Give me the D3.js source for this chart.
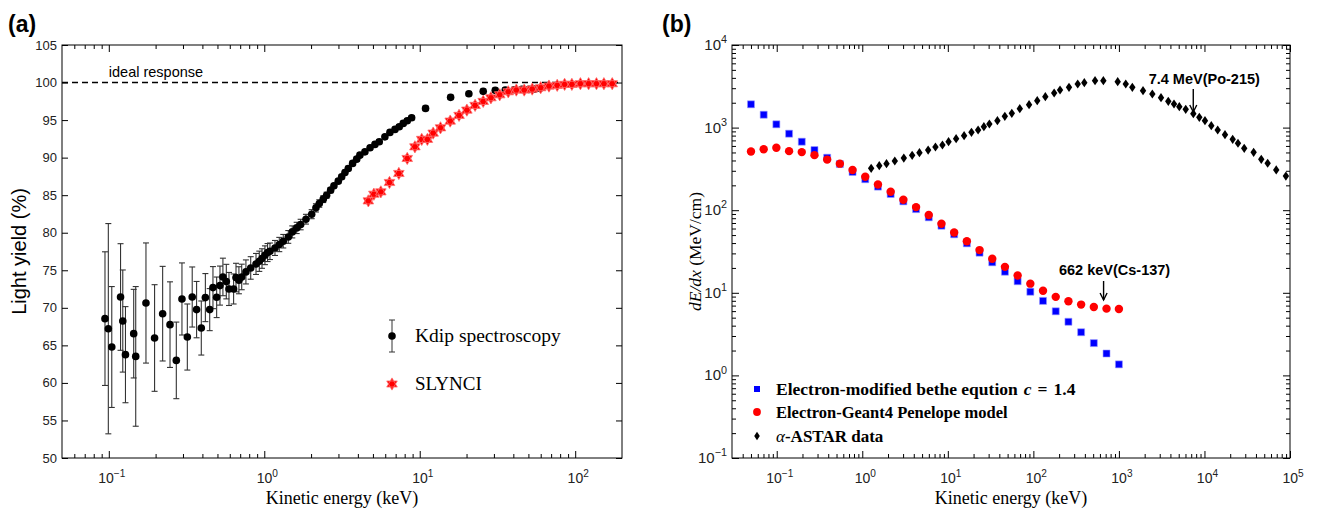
<!DOCTYPE html>
<html><head><meta charset="utf-8">
<script src="https://cdn.jsdelivr.net/npm/d3@7"></script>
<style>body{margin:0;background:#fff;} svg{display:block;}</style>
</head><body>
<svg id="chart" width="1322" height="510"></svg>
<script>
// ---------------- DATA ----------------
// Panel (a): Kdip spectroscopy (energy keV, light yield %, error %)
const kdipEnergy = [0.0945,0.0993,0.1045,0.119,0.123,0.128,0.1446,0.149,0.1734,0.197,0.222,0.2476,0.2718,0.2955,0.320,0.344,0.367,0.3935,0.418,0.4457,
  0.4677,0.494,0.519,0.542,0.570,0.593,0.635,0.658,0.687,0.716,0.762,0.818,0.885,0.929,0.967,1.01,1.05,1.088,1.172,1.249,1.325,1.427,1.514,1.616,1.714,1.854,2.018,2.149,2.259,2.395,2.518,
  2.672,2.806,2.992,3.147,3.304,3.47,3.70,3.93,4.12,4.44,4.79,5.15,5.49,5.97,6.43,6.93,7.38,7.83,8.31,8.87,10.9,15.8,20.7,25.6,30.6,35.5,40.5,45.4,50.4,54.8,59.3];
const kdipYield = [68.56,67.22,64.78,71.44,68.24,63.76,66.56,63.53,70.64,65.98,69.22,67.76,63.0,71.18,66.11,71.44,69.76,67.31,71.36,69.76,
  72.69,71.4,72.96,74.11,73.49,72.51,72.51,74.03,73.67,74.11,74.78,75.31,75.84,76.2,76.56,77.0,77.36,77.53,77.97,78.43,78.87,79.44,80.11,80.64,81.09,81.8,82.47,83.31,83.89,84.47,85.0,
  85.67,86.24,86.87,87.44,88.03,88.56,89.23,89.8,90.33,90.77,91.31,91.76,92.11,92.77,93.36,93.76,94.11,94.56,94.91,95.31,96.56,98.03,98.51,98.83,98.96,99.0,99.04,99.09,99.09,99.13,99.23];
const kdipError = [8.9,14.0,8.05,7.1,6.8,6.4,5.9,9.3,8.0,7.1,6.3,5.7,5.1,4.8,4.4,4.0,3.75,3.6,3.2,2.8,
  2.8,2.7,2.6,2.5,2.3,2.2,2.0,1.9,1.8,1.7,1.6,1.5,1.4,1.35,1.3,1.25,1.2,1.1,1.0,0.95,0.9,0.85,0.8,0.75,0.7,0.65,0.6,0.55,0.5,0.45,0.4,
  0.35,0.3,0.3,0.3,0.3,0.3,0.3,0.3,0.3,0.3,0.3,0.3,0.3,0.3,0.3,0.3,0.3,0.3,0.3,0.3,0.3,0.3,0.3,0.3,0.3,0.3,0.3,0.3,0.3,0.3,0.3];
// Panel (a): SLYNCI
const slynciEnergy = [4.67,5.07,5.62,6.39,7.34,8.31,9.31,10.3,11.2,12.2,13.6,15.7,17.9,20.1,22.7,25.6,28.7,32.7,37.1,41.8,47.0,52.9,60.0,67.8,76.6,85.5,95.2,108,122,137,153,173];
const slynciYield = [84.24,85.13,85.44,86.69,87.89,89.89,91.44,92.43,92.43,93.27,93.97,94.87,95.63,96.33,96.96,97.49,97.97,98.37,98.77,99.0,99.0,99.13,99.31,99.53,99.63,99.76,99.76,99.84,99.84,99.84,99.84,99.84];
const idealResponse = 100;
const leftXTicks = [0.1,1,10,100];
const leftXExp = [-1,0,1,2];
const leftYTicks = [50,55,60,65,70,75,80,85,90,95,100,105];

// Panel (b): electrons (energy keV, dE/dx MeV/cm)
const electronEnergy = [0.05,0.0704,0.099,0.1394,0.1962,0.2761,0.3886,0.547,0.7699,1.0836,1.525,2.147,3.022,4.253,5.986,8.425,11.86,16.69,23.49,33.06,46.53,65.49,92.18,129.7,182.6,257.0,361.7,509.1,716.6,1000];
const betheDEdx = [1914,1432,1096,844,675,535,432,362,290,237,193,157,128,103,82,64.9,51.1,39.7,30.6,23.4,18.0,13.8,10.3,7.98,5.97,4.46,3.33,2.46,1.84,1.36];
const geantDEdx = [514,548,570,519,505,464,410,366,307,254,205,167,134,109,87.3,68.4,53.6,42.0,32.9,25.8,20.6,16.2,12.9,10.6,8.93,7.9,7.2,6.74,6.43,6.37];
// Panel (b): alpha ASTAR
const astarEnergy = [1.27,1.58,1.92,2.40,3.06,3.83,4.66,5.89,7.17,8.65,10.2,12.5,15.5,18.9,22.6,26.4,30.6,38.0,46.4,56.0,69.4,89.1,111,138,175,205,261,330,394,526,658,968,1202,1435,1914,2459,3105,3778,4406,5082,6039,7413,8710,10140,12020,14280,17380,21380,24660,29170,37580,46130,54800,69020,89540];
const astarDEdx = [321,346,366,394,428,462,497,535,582,616,675,734,798,877,935,1026,1106,1212,1370,1490,1693,1894,2116,2366,2624,2853,3077,3373,3497,3697,3697,3594,3373,3077,2797,2551,2301,2081,1930,1791,1666,1473,1333,1212,1054,935,820,722,646,561,502,413,370,307,259];
const rightXTicks = [0.1,1,10,100,1000,10000,100000];
const rightXExp = [-1,0,1,2,3,4,5];
const rightYTicks = [0.1,1,10,100,1000,10000];
const rightYExp = [-1,0,1,2,3,4];
const annotations = [
  {label:"7.4 MeV(Po-215)", energy:7400},
  {label:"662 keV(Cs-137)", energy:662}
];

// ---------------- DRAWING ----------------
const SANS = "'Liberation Sans', Arial, sans-serif";
const SERIF = "'Liberation Serif', 'Times New Roman', serif";
const svg = d3.select('#chart');

function minorLog(lo, hi) {
  const out = [];
  for (let e = Math.floor(Math.log10(lo)); e <= Math.ceil(Math.log10(hi)); e++) {
    for (let m = 2; m <= 9; m++) { const v = m * Math.pow(10, e); if (v > lo*1.001 && v < hi*0.999) out.push(v); }
  }
  return out;
}
function tickAxis(g, axisFn, scale, values, len, tx, ty) {
  const a = g.append('g').attr('transform', `translate(${tx},${ty})`)
    .call(axisFn(scale).tickValues(values).tickSize(-len).tickFormat(''));
  a.select('.domain').remove();
  a.selectAll('line').attr('stroke', '#000').attr('stroke-width', 1);
}
function powLabel(g, x, y, exp, size, anchor) {
  const t = g.append('text').attr('x', x).attr('y', y).attr('text-anchor', anchor)
    .style('font-family', SANS).style('font-size', size + 'px').attr('fill', '#222');
  t.append('tspan').text('10');
  t.append('tspan').attr('dy', -size * 0.45).style('font-size', (size * 0.72) + 'px')
    .text(exp < 0 ? '\u2212' + (-exp) : String(exp));
}

// ===== Panel (a) =====
const L = {x0: 62, x1: 622, y0: 45, y1: 458};
const xL = d3.scaleLog().domain([0.05, 200]).range([L.x0, L.x1]);
const yL = d3.scaleLinear().domain([50, 105]).range([L.y1, L.y0]);
const gA = svg.append('g');

gA.append('text').attr('x', 8).attr('y', 32).style('font-family', SANS).style('font-weight', 'bold')
  .style('font-size', '23px').text('(a)');

const xLMinor = minorLog(0.05, 200);
tickAxis(gA, d3.axisBottom, xL, leftXTicks, 7, 0, L.y1);
tickAxis(gA, d3.axisBottom, xL, xLMinor, 4, 0, L.y1);
tickAxis(gA, d3.axisTop, xL, leftXTicks, 7, 0, L.y0);
tickAxis(gA, d3.axisTop, xL, xLMinor, 4, 0, L.y0);
tickAxis(gA, d3.axisLeft, yL, leftYTicks, 6, L.x0, 0);
tickAxis(gA, d3.axisRight, yL, leftYTicks, 6, L.x1, 0);

gA.append('rect').attr('x', L.x0).attr('y', L.y0).attr('width', L.x1 - L.x0).attr('height', L.y1 - L.y0)
  .attr('fill', 'none').attr('stroke', '#000').attr('stroke-width', 1);

leftYTicks.forEach(v => {
  gA.append('text').attr('x', L.x0 - 5).attr('y', yL(v) + 4.5).attr('text-anchor', 'end')
    .style('font-family', SANS).style('font-size', '13px').attr('fill', '#222').text(v);
});
leftXTicks.forEach((v, i) => powLabel(gA, xL(v) + 3, 483, leftXExp[i], 14, 'middle'));

gA.append('text').attr('x', (L.x0 + L.x1) / 2).attr('y', 504).attr('text-anchor', 'middle')
  .style('font-family', SERIF).style('font-size', '18px').text('Kinetic energy (keV)');
gA.append('text').attr('transform', `translate(26,${(L.y0 + L.y1) / 2}) rotate(-90)`).attr('text-anchor', 'middle')
  .style('font-family', SANS).style('font-size', '20px').text('Light yield (%)');

gA.append('line').attr('x1', L.x0).attr('x2', L.x1).attr('y1', yL(idealResponse)).attr('y2', yL(idealResponse))
  .attr('stroke', '#000').attr('stroke-width', 1.6).attr('stroke-dasharray', '6,4');
gA.append('text').attr('x', xL(0.1)).attr('y', yL(idealResponse) - 6)
  .style('font-family', SANS).style('font-size', '14.5px').text('ideal response');

const kd = kdipEnergy.map((e, i) => ({e, v: kdipYield[i], s: kdipError[i]}));
const eb = gA.append('g').attr('stroke', '#333').attr('stroke-width', 1.1);
kd.forEach(d => {
  const x = xL(d.e), yt = yL(d.v + d.s), yb = yL(d.v - d.s);
  eb.append('line').attr('x1', x).attr('x2', x).attr('y1', yt).attr('y2', yb);
  eb.append('line').attr('x1', x - 3).attr('x2', x + 3).attr('y1', yt).attr('y2', yt);
  eb.append('line').attr('x1', x - 3).attr('x2', x + 3).attr('y1', yb).attr('y2', yb);
});
gA.append('g').selectAll('circle').data(kd).join('circle')
  .attr('cx', d => xL(d.e)).attr('cy', d => yL(d.v)).attr('r', 3.8).attr('fill', '#000');

const hexagram = {
  draw(ctx, size) {
    const r = Math.sqrt(size) / 2;
    for (const off of [-90, 90]) {
      for (let k = 0; k < 3; k++) {
        const a = (off + k * 120) * Math.PI / 180;
        const px = r * Math.cos(a), py = r * Math.sin(a);
        if (k === 0) ctx.moveTo(px, py); else ctx.lineTo(px, py);
      }
      ctx.closePath();
    }
  }
};
const starPath = d3.symbol().type(hexagram).size(150)();
gA.append('g').selectAll('path').data(slynciEnergy.map((e, i) => ({e, v: slynciYield[i]}))).join('path')
  .attr('d', starPath).attr('transform', d => `translate(${xL(d.e)},${yL(d.v)})`)
  .attr('fill', '#ff0000').attr('stroke', '#ff7070').attr('stroke-width', 0.8);

const lgA = gA.append('g');
lgA.append('line').attr('x1', 392).attr('x2', 392).attr('y1', 320).attr('y2', 352).attr('stroke', '#333');
lgA.append('line').attr('x1', 389).attr('x2', 395).attr('y1', 320).attr('y2', 320).attr('stroke', '#333');
lgA.append('line').attr('x1', 389).attr('x2', 395).attr('y1', 352).attr('y2', 352).attr('stroke', '#333');
lgA.append('circle').attr('cx', 392).attr('cy', 336).attr('r', 3.8).attr('fill', '#000');
lgA.append('text').attr('x', 415).attr('y', 342).style('font-family', SERIF).style('font-size', '19.5px').text('Kdip spectroscopy');
lgA.append('path').attr('d', starPath).attr('transform', 'translate(392,384)').attr('fill', '#ff0000').attr('stroke', '#ff7070').attr('stroke-width', 0.8);
lgA.append('text').attr('x', 415).attr('y', 390).style('font-family', SERIF).style('font-size', '19px').text('SLYNCI');

// ===== Panel (b) =====
const R = {x0: 732, x1: 1290, y0: 45, y1: 458};
const xR = d3.scaleLog().domain([0.03, 100000]).range([R.x0, R.x1]);
const yR = d3.scaleLog().domain([0.1, 10000]).range([R.y1, R.y0]);
const gB = svg.append('g');

gB.append('text').attr('x', 662).attr('y', 32).style('font-family', SANS).style('font-weight', 'bold')
  .style('font-size', '23px').text('(b)');

const xRMinor = minorLog(0.03, 100000);
const yRMinor = minorLog(0.1, 10000);
tickAxis(gB, d3.axisBottom, xR, rightXTicks, 7, 0, R.y1);
tickAxis(gB, d3.axisBottom, xR, xRMinor, 4, 0, R.y1);
tickAxis(gB, d3.axisTop, xR, rightXTicks, 7, 0, R.y0);
tickAxis(gB, d3.axisTop, xR, xRMinor, 4, 0, R.y0);
tickAxis(gB, d3.axisLeft, yR, rightYTicks, 7, R.x0, 0);
tickAxis(gB, d3.axisLeft, yR, yRMinor, 4, R.x0, 0);
tickAxis(gB, d3.axisRight, yR, rightYTicks, 7, R.x1, 0);
tickAxis(gB, d3.axisRight, yR, yRMinor, 4, R.x1, 0);

gB.append('rect').attr('x', R.x0).attr('y', R.y0).attr('width', R.x1 - R.x0).attr('height', R.y1 - R.y0)
  .attr('fill', 'none').attr('stroke', '#000').attr('stroke-width', 1);

rightXTicks.forEach((v, i) => powLabel(gB, xR(v) + 3, 483, rightXExp[i], 14, 'middle'));
rightYTicks.forEach((v, i) => powLabel(gB, R.x0 - 5, yR(v) + 5, rightYExp[i], 15, 'end'));

gB.append('text').attr('x', (R.x0 + R.x1) / 2).attr('y', 504).attr('text-anchor', 'middle')
  .style('font-family', SERIF).style('font-size', '18px').text('Kinetic energy (keV)');
const yt = gB.append('text').attr('transform', `translate(701,${(R.y0 + R.y1) / 2}) rotate(-90)`).attr('text-anchor', 'middle')
  .style('font-family', SERIF).style('font-size', '17.5px');
yt.append('tspan').style('font-style', 'italic').text('dE/dx');
yt.append('tspan').text(' (MeV/cm)');

const squarePath = 'M-3.5,-3.5H3.5V3.5H-3.5Z';
const diamondPath = 'M0,-4.6L3.2,0L0,4.6L-3.2,0Z';
gB.append('g').selectAll('path').data(astarEnergy.map((e, i) => ({e, v: astarDEdx[i]}))).join('path')
  .attr('d', diamondPath).attr('transform', d => `translate(${xR(d.e)},${yR(d.v)})`).attr('fill', '#000');
gB.append('g').selectAll('path').data(electronEnergy.map((e, i) => ({e, v: betheDEdx[i]}))).join('path')
  .attr('d', squarePath).attr('transform', d => `translate(${xR(d.e)},${yR(d.v)})`).attr('fill', '#0000ff')
  .attr('stroke', '#9999ff').attr('stroke-width', 0.6);
gB.append('g').selectAll('circle').data(electronEnergy.map((e, i) => ({e, v: geantDEdx[i]}))).join('circle')
  .attr('cx', d => xR(d.e)).attr('cy', d => yR(d.v)).attr('r', 4.2).attr('fill', '#ff0000');

const annY = [{ty: 84, a0: 89, a1: 112}, {ty: 275, a0: 281, a1: 300}];
annotations.forEach((an, i) => {
  const x = xR(an.energy);
  gB.append('text').attr('x', x + 11).attr('y', annY[i].ty).attr('text-anchor', 'middle')
    .style('font-family', SANS).style('font-weight', 'bold').style('font-size', '14.5px').text(an.label);
  gB.append('line').attr('x1', x).attr('x2', x).attr('y1', annY[i].a0).attr('y2', annY[i].a1)
    .attr('stroke', '#000').attr('stroke-width', 1.4);
  gB.append('path').attr('d', `M${x - 3.5},${annY[i].a1 - 7}L${x},${annY[i].a1}L${x + 3.5},${annY[i].a1 - 7}`)
    .attr('fill', 'none').attr('stroke', '#000').attr('stroke-width', 1.4);
});

const lgB = gB.append('g');
const rows = [389, 412, 436];
lgB.append('path').attr('d', 'M-3,-3H3V3H-3Z').attr('transform', `translate(757,${rows[0]})`).attr('fill', '#0000ff');
lgB.append('circle').attr('cx', 757).attr('cy', rows[1]).attr('r', 3.9).attr('fill', '#ff0000');
lgB.append('path').attr('d', 'M0,-4.2L2.8,0L0,4.2L-2.8,0Z').attr('transform', `translate(757,${rows[2]})`).attr('fill', '#000');
function legText(y, fs) {
  return lgB.append('text').attr('x', 776).attr('y', y + 6).style('font-family', SERIF)
    .style('font-weight', 'bold').style('font-size', fs + 'px');
}
const t1 = legText(rows[0], 17.5);
t1.append('tspan').text('Electron-modified bethe eqution');
t1.append('tspan').attr('dx', 6).style('font-style', 'italic').text('c');
t1.append('tspan').attr('dx', 6).text('=');
t1.append('tspan').attr('dx', 6).text('1.4');
legText(rows[1], 16.5).text('Electron-Geant4 Penelope model');
const t3 = legText(rows[2], 17);
t3.append('tspan').style('font-style', 'italic').style('font-weight', 'normal').text('\u03b1');
t3.append('tspan').text('-ASTAR data');
</script>
</body></html>
